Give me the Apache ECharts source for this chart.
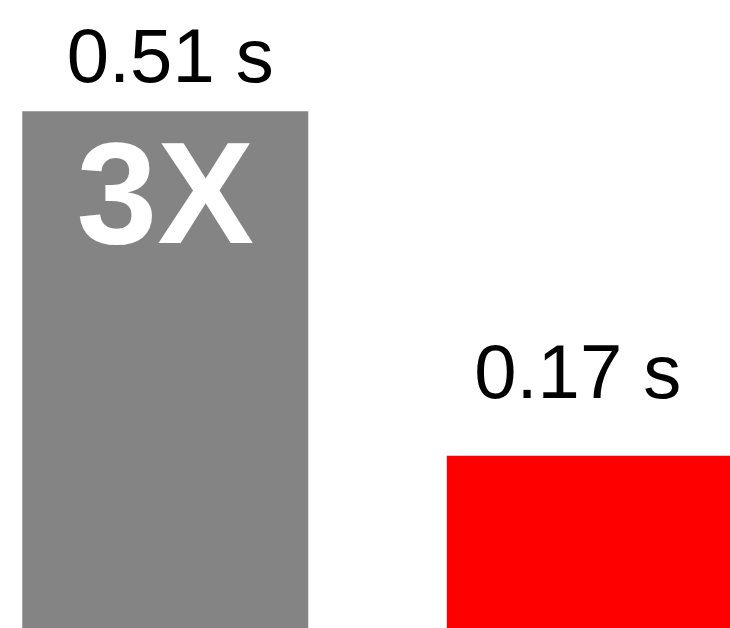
<!DOCTYPE html>
<html>
<head>
<meta charset="utf-8">
<script src="https://cdn.jsdelivr.net/npm/echarts@6/dist/echarts.min.js"></script>
<style>html,body{margin:0;padding:0;background:#fff}#c{width:730px;height:628px}</style>
</head>
<body>
<div id="c"></div>
<script>
const categories = ['Before', 'After'];
const values = [0.51, 0.17];
const valueLabels = ['0.51 s', '0.17 s'];
const speedupLabels = ['3X', ''];
const barColors = ['#848484', '#ff0000'];
const labelDistances = [12, 41];
const labelOffsets = [[5, 0], [-12, 0]];

const chart = echarts.init(document.getElementById('c'), null, {renderer: 'canvas'});
chart.setOption({
  animation: false,
  backgroundColor: '#ffffff',
  grid: {left: -47, width: 849, top: 20, bottom: 0, containLabel: false, outerBoundsMode: 'none'},
  xAxis: {type: 'category', data: categories, show: false},
  yAxis: {type: 'value', min: 0, max: 0.6, show: false},
  series: [
    {
      type: 'bar',
      barWidth: 286,
      data: values.map((v, i) => ({
        value: v,
        itemStyle: {color: barColors[i]},
        label: {
          show: true, position: 'top', distance: labelDistances[i], offset: labelOffsets[i],
          formatter: valueLabels[i],
          color: '#000', fontSize: 76, fontFamily: 'Liberation Sans, Arial, sans-serif'
        }
      }))
    },
    {
      type: 'bar',
      barWidth: 286,
      barGap: '-100%',
      silent: true,
      itemStyle: {color: 'transparent'},
      data: values.map((v, i) => ({
        value: v,
        label: {
          show: speedupLabels[i] !== '', position: 'insideTop', distance: 19,
          formatter: speedupLabels[i],
          color: '#fff', fontSize: 145, fontWeight: 'bold',
          fontFamily: 'Liberation Sans, Arial, sans-serif'
        }
      }))
    }
  ]
});
</script>
</body>
</html>
